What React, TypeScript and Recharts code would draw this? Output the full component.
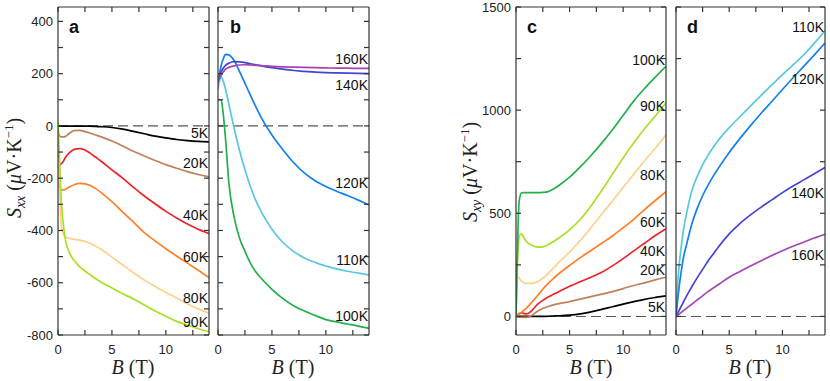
import React from "react";
import { LineChart, Line, XAxis, YAxis, ReferenceLine, ReferenceDot } from "recharts";

// magnetic field grid (T), shared by every curve
const fieldB = [0, 0.1, 0.2, 0.3, 0.5, 0.7, 1, 1.5, 2, 2.5, 3, 3.5, 4, 5, 6, 7, 8, 9, 10, 11, 12, 13, 14];

// panel a: Sxx, low temperatures
const sxx5K = [0, 0, 0, -1, -1, -1, -1, -1, -1, -1, -1, -2, -3, -6, -12, -21, -30, -39, -46, -52, -56, -59, -61];
const sxx20K = [-15, -35, -40, -42, -42, -40, -30, -18, -17, -22, -28, -35, -42, -58, -77, -97, -115, -132, -148, -162, -175, -186, -195];
const sxx40K = [-110, -145, -148, -145, -135, -120, -105, -90, -87, -92, -105, -120, -135, -168, -200, -235, -268, -298, -327, -352, -375, -395, -412];
const sxx60K = [-215, -235, -242, -245, -245, -242, -235, -225, -220, -222, -228, -240, -255, -290, -330, -368, -408, -440, -470, -498, -525, -552, -580];
const sxx80K = [-120, -220, -300, -380, -415, -425, -430, -434, -437, -442, -450, -460, -472, -502, -532, -562, -590, -614, -637, -658, -680, -700, -717];
const sxx90K = [15, -80, -190, -283, -380, -440, -480, -515, -538, -555, -570, -585, -598, -620, -642, -662, -685, -708, -728, -748, -762, -776, -787];

// panel b: Sxx, high temperatures
const sxx100K = [100, 101, 100, 98, 40, -50, -215, -350, -430, -480, -525, -558, -583, -625, -660, -688, -708, -725, -741, -750, -758, -766, -775];
const sxx110K = [140, 165, 182, 188, 170, 140, 85, -10, -95, -168, -232, -285, -328, -395, -445, -480, -505, -522, -536, -547, -556, -563, -570];
const sxx120K = [165, 190, 212, 232, 258, 274, 272, 250, 208, 163, 118, 74, 33, -35, -90, -140, -180, -210, -232, -250, -266, -284, -302];
const sxx140K = [172, 185, 198, 208, 222, 232, 240, 246, 245, 242, 238, 234, 230, 223, 217, 212, 209, 206, 204, 203, 202, 201, 200];
const sxx160K = [170, 180, 188, 195, 207, 217, 224, 230, 233, 234, 233, 232, 231, 228, 226, 225, 224, 223, 222, 221, 221, 220, 220];

// panel c: Sxy, low temperatures
const sxy5K = [0, 0, 0, 0, 0, 0, 0, 0, 0, 0, 1, 2, 3, 6, 12, 22, 34, 47, 60, 72, 83, 92, 100];
const sxy20K = [0, -1, -2, -3, -4, -5, -5, 6, 25, 38, 48, 56, 62, 72, 84, 96, 108, 120, 135, 150, 163, 177, 190];
const sxy40K = [0, 5, 10, 14, 17, 15, 12, 30, 58, 78, 94, 107, 120, 146, 168, 190, 214, 245, 280, 318, 355, 392, 425];
const sxy60K = [0, 4, 8, 12, 18, 28, 42, 70, 100, 132, 160, 185, 207, 247, 285, 320, 355, 390, 430, 472, 518, 562, 605];
const sxy80K = [0, 185, 192, 185, 172, 164, 160, 160, 168, 185, 208, 235, 262, 312, 368, 430, 495, 560, 625, 690, 755, 815, 880];
const sxy90K = [0, 200, 330, 390, 400, 385, 362, 345, 336, 337, 348, 363, 380, 420, 470, 535, 610, 690, 768, 842, 910, 972, 1035];
const sxy100K = [0, 250, 450, 560, 598, 600, 600, 600, 600, 601, 605, 618, 635, 675, 725, 780, 840, 905, 975, 1045, 1105, 1160, 1212];

// panel d: Sxy, high temperatures
const sxy110K = [0, 110, 190, 250, 340, 420, 500, 610, 680, 735, 780, 820, 855, 915, 968, 1020, 1072, 1122, 1172, 1220, 1268, 1325, 1385];
const sxy120K = [0, 50, 100, 145, 220, 285, 350, 450, 525, 585, 635, 680, 720, 795, 862, 925, 985, 1042, 1100, 1157, 1212, 1268, 1325];
const sxy140K = [0, 10, 20, 30, 50, 70, 100, 145, 188, 228, 268, 303, 338, 400, 450, 492, 530, 565, 600, 632, 662, 692, 722];
const sxy160K = [0, 4, 8, 12, 20, 28, 40, 60, 80, 100, 120, 138, 155, 190, 218, 245, 270, 295, 318, 340, 360, 380, 398];

const bTicks = [0, 2.5, 5, 7.5, 10, 12.5];
const sxxTicks = [-800, -700, -600, -500, -400, -300, -200, -100, 0, 100, 200, 300, 400];
const sxyTicks = [0, 250, 500, 750, 1000, 1250, 1500];

const colors = {
  k5: "#000000",
  k20: "#C0805C",
  k40: "#EE2228",
  k60: "#FF7F24",
  k80: "#FFD08C",
  k90: "#A8E024",
  k100: "#22B04A",
  k110: "#58C8E0",
  k120: "#1480EE",
  k140: "#4444D4",
  k160: "#A444B4",
};

const W = 830;
const H = 381;
const sans = "'Liberation Sans', Arial, sans-serif";
const serif = "'Liberation Serif', 'Times New Roman', serif";
const axisColor = "#333";

type Series = { key: string; color: string; values: number[] };
type Tag = { text: string; at: number };

const panelA: Series[] = [
  { key: "k5", color: colors.k5, values: sxx5K },
  { key: "k20", color: colors.k20, values: sxx20K },
  { key: "k40", color: colors.k40, values: sxx40K },
  { key: "k60", color: colors.k60, values: sxx60K },
  { key: "k80", color: colors.k80, values: sxx80K },
  { key: "k90", color: colors.k90, values: sxx90K },
];
const panelB: Series[] = [
  { key: "k100", color: colors.k100, values: sxx100K },
  { key: "k110", color: colors.k110, values: sxx110K },
  { key: "k120", color: colors.k120, values: sxx120K },
  { key: "k140", color: colors.k140, values: sxx140K },
  { key: "k160", color: colors.k160, values: sxx160K },
];
const panelC: Series[] = [
  { key: "k5", color: colors.k5, values: sxy5K },
  { key: "k20", color: colors.k20, values: sxy20K },
  { key: "k40", color: colors.k40, values: sxy40K },
  { key: "k60", color: colors.k60, values: sxy60K },
  { key: "k80", color: colors.k80, values: sxy80K },
  { key: "k90", color: colors.k90, values: sxy90K },
  { key: "k100", color: colors.k100, values: sxy100K },
];
const panelD: Series[] = [
  { key: "k110", color: colors.k110, values: sxy110K },
  { key: "k120", color: colors.k120, values: sxy120K },
  { key: "k140", color: colors.k140, values: sxy140K },
  { key: "k160", color: colors.k160, values: sxy160K },
];

// temperature tags at the right edge of each panel
const tagsA: Tag[] = [
  { text: "5K", at: -27 },
  { text: "20K", at: -142 },
  { text: "40K", at: -341 },
  { text: "60K", at: -501 },
  { text: "80K", at: -658 },
  { text: "90K", at: -750 },
];
const tagsB: Tag[] = [
  { text: "160K", at: 255 },
  { text: "140K", at: 157 },
  { text: "120K", at: -219 },
  { text: "110K", at: -513 },
  { text: "100K", at: -727 },
];
const tagsC: Tag[] = [
  { text: "100K", at: 1244 },
  { text: "90K", at: 1021 },
  { text: "80K", at: 687 },
  { text: "60K", at: 456 },
  { text: "40K", at: 315 },
  { text: "20K", at: 226 },
  { text: "5K", at: 48 },
];
const tagsD: Tag[] = [
  { text: "110K", at: 1403 },
  { text: "120K", at: 1152 },
  { text: "140K", at: 600 },
  { text: "160K", at: 296 },
];

function buildRows(series: Series[]) {
  return fieldB.map((b, i) => {
    const row: Record<string, number> = { B: b };
    series.forEach((s) => {
      row[s.key] = s.values[i];
    });
    return row;
  });
}

type PanelProps = {
  left: number;
  right: number;
  yDomain: [number, number];
  yTicks: number[];
  labelStep: number;
  showLabels: boolean;
  series: Series[];
  tags: Tag[];
};

const lineStyle = { stroke: axisColor, strokeWidth: 1.2 };
const tickText = { fill: "#222", fontSize: 13, fontFamily: sans };

function Panel({ left, right, yDomain, yTicks, labelStep, showLabels, series, tags }: PanelProps) {
  const rows = buildRows(series);
  const yFmt = (v: number) => (showLabels && v % labelStep === 0 ? String(v) : "");
  return (
    <div style={{ position: "absolute", left: 0, top: 0 }}>
      <LineChart
        width={W}
        height={H}
        data={rows}
        margin={{ top: 6, bottom: 45, left: left - 1, right: W - right - 1 }}
      >
        <XAxis
          dataKey="B"
          type="number"
          domain={[0, 14]}
          ticks={bTicks}
          interval={0}
          allowDataOverflow
          height={1}
          tickSize={-5}
          tickMargin={15}
          axisLine={lineStyle}
          tickLine={lineStyle}
          tick={tickText}
          tickFormatter={(v: number) => (v % 5 === 0 ? String(v) : "")}
        />
        <XAxis
          xAxisId="top"
          orientation="top"
          dataKey="B"
          type="number"
          domain={[0, 14]}
          ticks={bTicks}
          interval={0}
          allowDataOverflow
          height={1}
          tickSize={-5}
          axisLine={lineStyle}
          tickLine={lineStyle}
          tick={tickText}
          tickFormatter={() => ""}
        />
        <YAxis
          type="number"
          domain={yDomain}
          ticks={yTicks}
          interval={0}
          allowDataOverflow
          width={1}
          tickSize={-5}
          tickMargin={10}
          axisLine={lineStyle}
          tickLine={lineStyle}
          tick={tickText}
          tickFormatter={yFmt}
        />
        <YAxis
          yAxisId="right"
          orientation="right"
          type="number"
          domain={yDomain}
          ticks={yTicks}
          interval={0}
          allowDataOverflow
          width={1}
          tickSize={-5}
          axisLine={lineStyle}
          tickLine={lineStyle}
          tick={tickText}
          tickFormatter={() => ""}
        />
        <ReferenceLine y={0} stroke="#555" strokeWidth={1.1} strokeDasharray="10 5" />
        {series.map((s) => (
          <Line
            key={s.key}
            type="monotone"
            dataKey={s.key}
            stroke={s.color}
            strokeWidth={1.7}
            dot={false}
            isAnimationActive={false}
          />
        ))}
        {tags.map((t) => (
          <ReferenceDot
            key={t.text}
            x={14}
            y={t.at}
            r={0}
            fill="none"
            stroke="none"
            label={{ value: t.text, position: "left", offset: 1, fontSize: 14, fill: "#111", fontFamily: sans }}
          />
        ))}
      </LineChart>
    </div>
  );
}

function BTitle({ x }: { x: number }) {
  return (
    <text x={x} y={374} textAnchor="middle" fontFamily={serif} fontSize={20} fill="#222">
      <tspan fontStyle="italic">B</tspan>
      <tspan> (T)</tspan>
    </text>
  );
}

function STitle({ x, y, sub }: { x: number; y: number; sub: string }) {
  return (
    <text transform={`translate(${x},${y}) rotate(-90)`} textAnchor="middle" fontFamily={serif} fontSize={20} fill="#222">
      <tspan fontStyle="italic">S</tspan>
      <tspan fontStyle="italic" fontSize={14} dy={4}>{sub}</tspan>
      <tspan dy={-4}> (</tspan>
      <tspan fontStyle="italic">μ</tspan>
      <tspan>V·K</tspan>
      <tspan fontSize={13} dy={-8}>−1</tspan>
      <tspan dy={8}>)</tspan>
    </text>
  );
}

export default function App() {
  const letter = { fontFamily: sans, fontWeight: 700, fontSize: 18, fill: "#111" };
  return (
    <div style={{ position: "absolute", left: 0, top: 0, width: W, height: H, background: "#fff" }}>
      <Panel left={58} right={209} yDomain={[-800, 455]} yTicks={sxxTicks} labelStep={200} showLabels series={panelA} tags={tagsA} />
      <Panel left={218} right={369} yDomain={[-800, 455]} yTicks={sxxTicks} labelStep={200} showLabels={false} series={panelB} tags={tagsB} />
      <Panel left={516} right={666} yDomain={[-90, 1500]} yTicks={sxyTicks} labelStep={500} showLabels series={panelC} tags={tagsC} />
      <Panel left={676} right={825} yDomain={[-90, 1500]} yTicks={sxyTicks} labelStep={500} showLabels={false} series={panelD} tags={tagsD} />
      <svg width={W} height={H} style={{ position: "absolute", left: 0, top: 0, pointerEvents: "none" }}>
        <text x={69} y={33} {...letter}>a</text>
        <text x={230} y={33} {...letter}>b</text>
        <text x={527} y={33} {...letter}>c</text>
        <text x={687} y={33} {...letter}>d</text>
        <BTitle x={133} />
        <BTitle x={293} />
        <BTitle x={591} />
        <BTitle x={750} />
        <STitle x={21} y={168} sub="xx" />
        <STitle x={477} y={172} sub="xy" />
      </svg>
    </div>
  );
}
